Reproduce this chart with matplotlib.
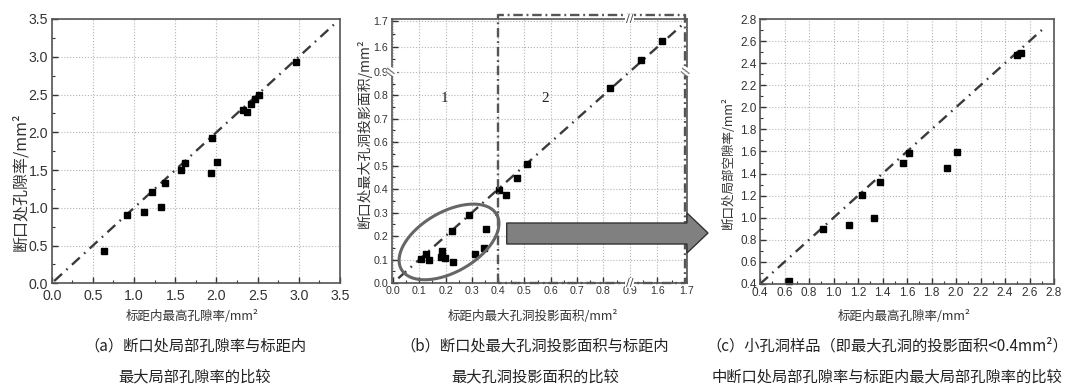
import numpy as np
import matplotlib.pyplot as plt
from matplotlib import font_manager
from matplotlib.patches import Polygon
from matplotlib.ticker import MultipleLocator, FixedLocator
from matplotlib.transforms import blended_transform_factory

# narrow sans for tick numbers when it is installed
try:
    font_manager.findfont('Liberation Sans Narrow', fallback_to_default=False)
    NUM = 'Liberation Sans Narrow'
    NARROW = True
except ValueError:
    NUM = 'Liberation Sans'
    NARROW = False
plt.rcParams['font.family'] = [NUM, 'DejaVu Sans']
CJK = ['Noto Sans CJK SC', 'DejaVu Sans']

# (a) porosity at fracture vs max local porosity in gauge
a_x = [0.635, 0.918, 1.124, 1.221, 1.326, 1.379, 1.565, 1.618, 1.93, 2.006,
       1.95, 2.32, 2.37, 2.42, 2.47, 2.52, 2.96]
a_y = [0.427, 0.905, 0.94, 1.209, 1.007, 1.332, 1.5, 1.597, 1.457, 1.603,
       1.925, 2.30, 2.27, 2.38, 2.44, 2.49, 2.93]
a_ref = [0.03, 3.45]

# (b) max pore projected area (broken axes 0.9 -> 1.6)
b_x = [0.107, 0.126, 0.137, 0.185, 0.183, 0.198, 0.229, 0.223, 0.29, 0.312,
       0.346, 0.354, 0.404, 0.43, 0.47, 0.508, 0.825, 1.19, 1.615]
b_y = [0.103, 0.124, 0.099, 0.137, 0.11, 0.107, 0.09, 0.22, 0.29, 0.124,
       0.15, 0.232, 0.396, 0.373, 0.449, 0.509, 0.83, 1.23, 1.623]
b_ref = [0.02, 1.69]
b_ticks = [0.0, 0.1, 0.2, 0.3, 0.4, 0.5, 0.6, 0.7, 0.8, 0.9, 1.6, 1.7]
b_break_vals = [0.0, 0.9, 1.6, 1.7]
b_break_pos = [0.0, 0.9, 1.005, 1.115]

# (c) small-pore samples
c_x = [0.637, 0.917, 1.129, 1.23, 1.331, 1.38, 1.565, 1.614, 1.927, 2.006, 2.495, 2.527]
c_y = [0.43, 0.895, 0.934, 1.206, 0.995, 1.321, 1.493, 1.589, 1.453, 1.593, 2.474, 2.494]
c_ref = [0.4, 2.73]


def bpos(v):
    return np.interp(v, b_break_vals, b_break_pos)


W, H = 1072, 388
fig = plt.figure(figsize=(W / 100, H / 100), dpi=100)


def frac(l, t, r, b):
    return [l / W, 1 - b / H, (r - l) / W, (b - t) / H]


def style(ax, fs):
    if not NARROW:
        fs *= 0.85
    ax.tick_params(which='both', direction='in', colors='#333', labelsize=fs, pad=2.5)
    ax.tick_params(which='major', length=4, width=1)
    ax.tick_params(which='minor', length=2.5, width=0.8)
    ax.grid(True, which='major', ls=':', color='#b5b5b5', lw=0.8)
    ax.set_axisbelow(True)
    for s in ax.spines.values():
        s.set_color('#555')
        s.set_linewidth(1.2)


ref_style = dict(color='#3a3a3a', lw=1.7, ls=(0, (4.5, 2.5, 0.7, 2.5)))

# ---- (a)
ax_a = fig.add_axes(frac(51.7, 19, 340, 283.3))
ax_a.plot(a_ref, a_ref, **ref_style)
ax_a.plot(a_x, a_y, 's', color='black', ms=4.6)
ax_a.set_xlim(0, 3.5)
ax_a.set_ylim(0, 3.5)
for axis in (ax_a.xaxis, ax_a.yaxis):
    axis.set_major_locator(MultipleLocator(0.5))
    axis.set_minor_locator(MultipleLocator(0.25))
style(ax_a, 12)
ax_a.tick_params(axis='x', pad=4)

# ---- (b)
ax_b = fig.add_axes(frac(391.7, 19, 687, 283))
ax_b.plot(bpos(b_ref), bpos(b_ref), **ref_style)
ax_b.plot(bpos(b_x), bpos(b_y), 's', color='black', ms=3.9)
ax_b.set_xlim(-0.005, 1.118)
ax_b.set_ylim(0, 1.125)
tpos = bpos(b_ticks)
mids = (tpos[:-1] + tpos[1:]) / 2
labels = ['%.1f' % t for t in b_ticks]
for axis in (ax_b.xaxis, ax_b.yaxis):
    axis.set_major_locator(FixedLocator(tpos))
    axis.set_minor_locator(FixedLocator(mids))
ax_b.set_xticklabels(labels)
ax_b.set_yticklabels(labels)
style(ax_b, 9)

# break marks
p09 = bpos(0.9)
bx = blended_transform_factory(ax_b.transData, ax_b.transAxes)
by = blended_transform_factory(ax_b.transAxes, ax_b.transData)
bb = dict(facecolor='white', edgecolor='none', pad=0.3)
for yy in (0, 1):
    ax_b.text(p09, yy, '//', transform=bx, ha='center', va='center', fontsize=8,
              family='DejaVu Sans', color='#444', bbox=bb, clip_on=False, zorder=5)
for xx in (0, 1):
    ax_b.text(xx, p09, '//', transform=by, ha='center', va='center', fontsize=8,
              family='DejaVu Sans', rotation=70, color='#444', bbox=bb,
              clip_on=False, zorder=5)

# dash-dot region box
xl = ax_b.get_xlim()
x0 = (0.4 - xl[0]) / (xl[1] - xl[0])
ax_b.plot([x0, x0, 0.993, 0.993, x0], [0, 1.015, 1.015, 0, 0],
          transform=ax_b.transAxes, clip_on=False, color='#555', lw=1.7,
          ls=(0, (4, 1.6, 0.8, 1.6)), zorder=4)

# ellipse round the small-pore group (drawn in pixel units)
sx = 295.3 / (xl[1] - xl[0])
sy = 264 / 1.125
t = np.linspace(0, 2 * np.pi, 200)
th = np.radians(30)
ea, eb = 55, 30
cx, cy = 0.213, 0.175
ex = cx + (ea * np.cos(t) * np.cos(th) - eb * np.sin(t) * np.sin(th)) / sx
ey = cy + (ea * np.cos(t) * np.sin(th) + eb * np.sin(t) * np.cos(th)) / sy
ax_b.plot(ex, ey, color='#666', lw=2.2, zorder=4)

ax_b.text(0.194, 0.788, '1', family='Liberation Serif', fontsize=11, color='#222',
          ha='center', va='center')
ax_b.text(0.578, 0.788, '2', family='Liberation Serif', fontsize=11, color='#222',
          ha='center', va='center')

# ---- (c)
ax_c = fig.add_axes(frac(760, 19, 1054, 284))
ax_c.plot(c_ref, c_ref, **ref_style)
ax_c.plot(c_x, c_y, 's', color='black', ms=4.4, clip_on=False)
ax_c.set_xlim(0.4, 2.8)
ax_c.set_ylim(0.4, 2.8)
for axis in (ax_c.xaxis, ax_c.yaxis):
    axis.set_major_locator(MultipleLocator(0.2))
    axis.set_minor_locator(MultipleLocator(0.1))
style(ax_c, 10)

# big gray arrow from (b) to (c)
arrow_px = [(506.7, 223), (687, 223), (687, 213), (708, 233),
            (687, 253), (687, 244), (506.7, 244)]
fig.add_artist(Polygon([(x / W, 1 - y / H) for x, y in arrow_px], closed=True,
                       transform=fig.transFigure, facecolor='#808080',
                       edgecolor='#333', lw=1, zorder=10))

# axis titles
fig.text(21 / W, 1 - 182 / H, '断口处孔隙率/mm²', rotation=90, ha='center', va='center',
         fontsize=11.5, family=CJK, color='#333')
fig.text(364 / W, 1 - 133 / H, '断口处最大孔洞投影面积/mm²', rotation=90, ha='center',
         va='center', fontsize=10, family=CJK, color='#333')
fig.text(728 / W, 1 - 162 / H, '断口处局部空隙率/mm²', rotation=90, ha='center',
         va='center', fontsize=9, family=CJK, color='#333')

for x, s in [(192, '标距内最高孔隙率/mm²'), (533, '标距内最大孔洞投影面积/mm²'),
             (904, '标距内最高孔隙率/mm²')]:
    fig.text(x / W, 1 - 317 / H, s, ha='center', va='center', fontsize=9,
             family=CJK, color='#333')

captions = [
    (195, '（a）断口处局部孔隙率与标距内', '最大局部孔隙率的比较'),
    (535, '（b）断口处最大孔洞投影面积与标距内', '最大孔洞投影面积的比较'),
    (887, '（c）小孔洞样品（即最大孔洞的投影面积<0.4mm²）',
     '中断口处局部孔隙率与标距内最大局部孔隙率的比较'),
]
for x, l1, l2 in captions:
    fig.text(x / W, 1 - 346 / H, l1, ha='center', va='center', fontsize=11,
             family=CJK, color='#222')
    fig.text(x / W, 1 - 377 / H, l2, ha='center', va='center', fontsize=11,
             family=CJK, color='#222')

fig.savefig('out.png', dpi=100)
